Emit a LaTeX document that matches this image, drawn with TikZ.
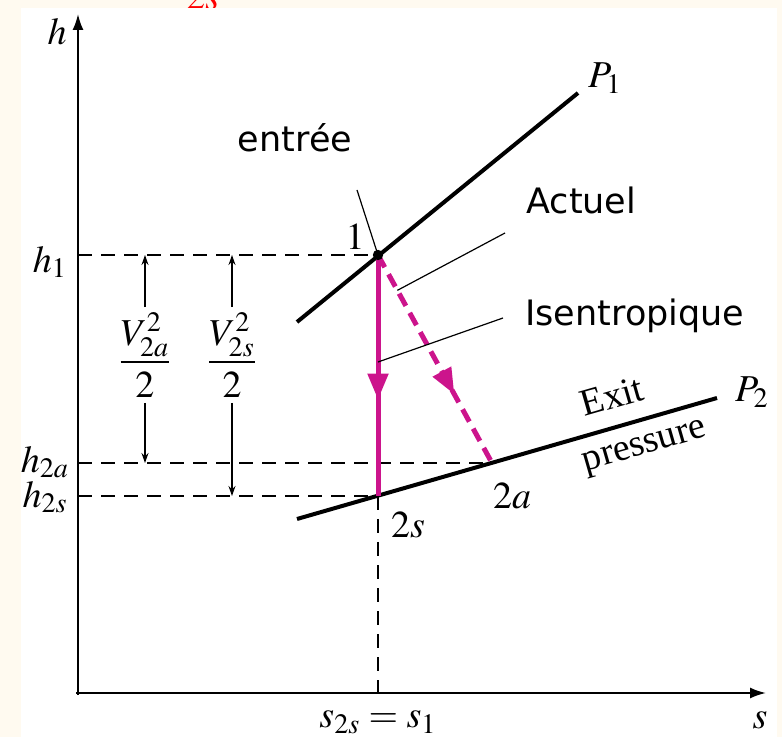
\documentclass[tikz,border=0pt]{standalone}
\usepackage{amsmath}
\usepackage{mathptmx}
\usepackage[no-math]{fontspec}
\setmainfont{Liberation Serif}
\newfontfamily\notefont{DejaVu Sans}
\definecolor{PaperCream}{RGB}{255,250,240}
\definecolor{ProcessMagenta}{RGB}{204,20,140}
\usetikzlibrary{
    arrows.meta,
    calc,
    decorations.markings
}

\begin{document}
\begin{tikzpicture}[
    x=0.5pt,y=-0.5pt,
    mathlbl/.style={
        font=\fontsize{19}{22}\selectfont,
        inner sep=1pt
    },
    notelbl/.style={
        font=\notefont\fontsize{17.5}{21}\selectfont,
        inner sep=0pt
    },
    axisline/.style={
        -{Latex[length=8pt,width=5.5pt]},
        line width=1pt
    },
    isobar/.style={
        line width=2pt
    },
    guide/.style={
        dash pattern=on 7pt off 4.5pt,
        line width=0.8pt
    },
    leader/.style={
        line width=0.6pt
    },
    dimarrow/.style={
        -{Stealth[length=5pt,width=3.5pt]},
        line width=0.6pt
    },
    midtip/.style={
        decoration={
            markings,
            mark=at position #1 with {
                \arrow{Triangle[length=13pt,width=10pt]}
            }
        },
        postaction={decorate}
    }
]
%
    % Page
%
    \fill[PaperCream] (0,0) rectangle (782,737);
    \fill[white] (21,8) rectangle (777,737);
%
    \begin{scope}
        \clip (0,0) rectangle (782,8);
        \node[
            mathlbl,
            text=red
        ]
        (cut-label) at (203,-3) {$2s$};
    \end{scope}
%
    % States
%
    \coordinate (st1) at (378,255);
    \coordinate (st2s) at (378,496);
    \coordinate (st2a) at (492,463);
    \coordinate (origin) at (78,693);
%
    % Axes
%
    \draw[axisline]
    (78,695)
    --
    (78,14)
    coordinate (h-tip);
%
    \draw[axisline]
    (76,693)
    --
    (766,693)
    coordinate (s-tip);
%
    \node[mathlbl] (h-label) at (57,32) {$h$};
    \node[mathlbl] (s-label) at (760,720) {$s$};
    \node[mathlbl] (s-equal) at (378,722) {$s_{2s} = s_1$};
%
    % Guide lines
%
    \draw[guide] (st1 -| origin) -- (st1);
    \draw[guide] (st2a -| origin) -- (st2a);
    \draw[guide] (st2s -| origin) -- (st2s);
    \draw[guide] (st2s) -- (st2s |- origin);
%
    \node[mathlbl] (h1-label) at (50,262) {$h_1$};
    \node[mathlbl] (h2a-label) at (45,462) {$h_{2a}$};
    \node[mathlbl] (h2s-label) at (45,497) {$h_{2s}$};
%
    % Isobars
%
    \draw[isobar]
    (297,322)
    --
    (578,93)
    coordinate (p1-end);
    \node[mathlbl] (p1-label) at (605,78) {$P_1$};
%
    \draw[isobar]
    (297,519)
    --
    (717,398)
    coordinate (p2-end)
    node[
        pos=0.77,
        sloped,
        above=7pt,
        font=\fontsize{19}{22}\selectfont,
        inner sep=1pt
    ] (exit-label) {Exit}
    node[
        pos=0.81,
        sloped,
        below=6pt,
        font=\fontsize{19}{22}\selectfont,
        inner sep=1pt
    ] (pressure-label) {pressure};
    \node[mathlbl] (p2-label) at (752,392) {$P_2$};
%
    % Expansion
%
    \draw[
        ProcessMagenta,
        line width=2.5pt,
        midtip=0.6
    ]
    (st1) -- (st2s);
%
    \draw[
        ProcessMagenta,
        line width=2.5pt,
        dash pattern=on 7pt off 4pt,
        midtip=0.67
    ]
    (st1) -- (st2a);
%
    \fill (st1) circle (2.6pt);
%
    \node[mathlbl] (st1-label) at (355,237) {$1$};
    \node[mathlbl] (st2s-label) at (408,525) {$2s$};
    \node[mathlbl] (st2a-label) at (512,496) {$2a$};
%
    % Velocity heads
%
    \node[
        mathlbl,
        inner sep=2.5pt
    ]
    (va-frac) at (145,355) {$\dfrac{V_{2a}^2}{2}$};
    \draw[dimarrow] (va-frac.north) -- (va-frac.north |- st1);
    \draw[dimarrow] (va-frac.south) -- (va-frac.south |- st2a);
%
    \node[
        mathlbl,
        inner sep=2.5pt
    ]
    (vs-frac) at (232,355) {$\dfrac{V_{2s}^2}{2}$};
    \draw[dimarrow] (vs-frac.north) -- (vs-frac.north |- st1);
    \draw[dimarrow] (vs-frac.south) -- (vs-frac.south |- st2s);
%
    % Notes
%
    \coordinate (entree-end) at (357,190);
    \draw[leader] (st1) -- (entree-end);
    \node[notelbl] (entree-note) at (295,138) {entrée};
%
    \coordinate (actuel-end) at (505,233);
    \draw[leader] ($(st1)!0.17!(st2a)$) -- (actuel-end);
    \node[
        notelbl,
        anchor=west
    ]
    (actuel-note) at (526,200) {Actuel};
%
    \coordinate (isen-start) at (378,362);
    \coordinate (isen-end) at (503,318);
    \draw[leader] (isen-start) -- (isen-end);
    \node[
        notelbl,
        anchor=west
    ]
    (isen-note) at (525,316) {Isentropique};
%
\end{tikzpicture}
\end{document}
